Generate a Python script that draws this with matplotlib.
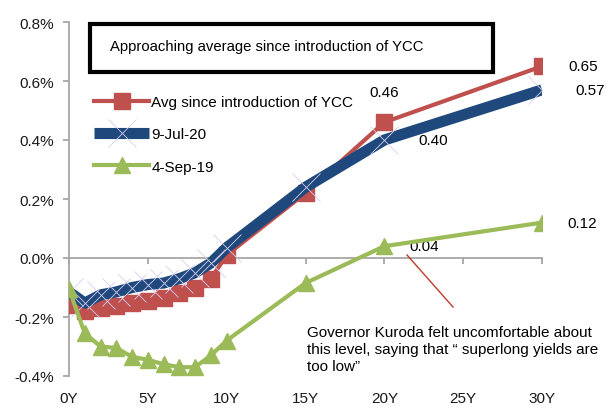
import matplotlib
matplotlib.use("Agg")
import matplotlib.pyplot as plt
from matplotlib.patches import Rectangle
from matplotlib.ticker import FuncFormatter

plt.rcParams['font.family'] = ['Liberation Sans', 'DejaVu Sans']

# ---- data ----
tenors = [0, 1, 2, 3, 4, 5, 6, 7, 8, 9, 10, 15, 20, 30]
avg_ycc = [-0.16, -0.18, -0.17, -0.163, -0.153, -0.145, -0.135, -0.12, -0.10, -0.07, 0.01, 0.22, 0.46, 0.65]
jul20 = [-0.115, -0.153, -0.125, -0.115, -0.10, -0.09, -0.085, -0.07, -0.05, -0.017, 0.035, 0.24, 0.40, 0.57]
sep19 = [-0.105, -0.255, -0.30, -0.305, -0.335, -0.345, -0.36, -0.37, -0.37, -0.33, -0.28, -0.085, 0.04, 0.12]
series_names = ["Avg since introduction of YCC", "9-Jul-20", "4-Sep-19"]
x_ticks = [0, 5, 10, 15, 20, 25, 30]
x_ticklabels = ["0Y", "5Y", "10Y", "15Y", "20Y", "25Y", "30Y"]
y_ticks = [-0.4, -0.2, 0.0, 0.2, 0.4, 0.6, 0.8]
title_text = "Approaching average since introduction of YCC"
note_text = "Governor Kuroda felt uncomfortable about\nthis level, saying that \u201c superlong yields are\ntoo low\u201d"

W, H = 614, 410
fig = plt.figure(figsize=(W / 100, H / 100), dpi=100)
ax = fig.add_axes([69 / W, 1 - 377 / H, (542 - 69) / W, (377 - 23) / H])

RED = '#c0504d'
BLUE = '#1f497d'
GREEN = '#9bbb59'
GREY = '#a6a6a6'

l1, = ax.plot(tenors, avg_ycc, color=RED, lw=3, marker='s', ms=11, mec=RED, mfc=RED,
              label=series_names[0], zorder=3)
l2, = ax.plot(tenors, jul20, color=BLUE, lw=8, solid_capstyle='butt', label=series_names[1],
              zorder=4, marker='x', ms=20, mec='#d4cdee', mew=0.6)
l3, = ax.plot(tenors, sep19, color=GREEN, lw=3, marker='^', ms=12, mec=GREEN, mfc=GREEN,
              label=series_names[2], zorder=5)

ax.set_xlim(0, 30)
ax.set_ylim(-0.4, 0.8)
ax.set_yticks(y_ticks)
ax.yaxis.set_major_formatter(FuncFormatter(lambda v, p: f"{v:.1f}%"))
ax.set_xticks(x_ticks)
ax.set_xticklabels(x_ticklabels)

for s in ['top', 'right']:
    ax.spines[s].set_visible(False)
ax.spines['left'].set_color(GREY)
ax.spines['left'].set_linewidth(1.3)
ax.spines['bottom'].set_color(GREY)
ax.spines['bottom'].set_linewidth(1.3)
ax.spines['bottom'].set_position(('data', 0))
ax.tick_params(axis='y', direction='out', length=4.5, width=1.3, color=GREY, pad=6,
               labelsize=11, labelcolor='#1a1a1a')
ax.tick_params(axis='x', direction='out', length=4.5, width=1.3, color=GREY, pad=91,
               labelsize=11, labelcolor='#1a1a1a')

# data labels
lab_fs = 11
ax.annotate("0.65", (tenors[-1], avg_ycc[-1]), xytext=(30, 0), textcoords='offset points',
            ha='center', va='center', fontsize=lab_fs)
ax.annotate("0.57", (tenors[-1], jul20[-1]), xytext=(35, 0), textcoords='offset points',
            ha='center', va='center', fontsize=lab_fs)
ax.annotate("0.46", (tenors[-2], avg_ycc[-2]), xytext=(0, 22), textcoords='offset points',
            ha='center', va='center', fontsize=lab_fs)
ax.annotate("0.40", (tenors[-2], jul20[-2]), xytext=(35, 0), textcoords='offset points',
            ha='center', va='center', fontsize=lab_fs)
ax.annotate("0.12", (tenors[-1], sep19[-1]), xytext=(29, 0), textcoords='offset points',
            ha='center', va='center', fontsize=lab_fs)
ax.annotate("0.04", (tenors[-2], sep19[-2]), xytext=(29, 0), textcoords='offset points',
            ha='center', va='center', fontsize=lab_fs)

# legend
leg = ax.legend(handles=[l1, l2, l3], loc='upper left', bbox_to_anchor=(88 / W, 1 - 90 / H),
                bbox_transform=fig.transFigure, frameon=False, fontsize=11,
                handlelength=3.6, handletextpad=0.15, labelspacing=1.2, borderaxespad=0,
                markerscale=1.0, numpoints=1)

# title box
fig.add_artist(Rectangle((90 / W, 1 - 73 / H), (493 - 90) / W, (73 - 25) / H,
                         transform=fig.transFigure, fill=True, facecolor='white',
                         edgecolor='black', lw=3, zorder=10))
fig.text(110 / W, 1 - 47 / H, title_text, ha='left', va='center', fontsize=10.7, zorder=11)

# annotation arrow line and note
fig.add_artist(plt.Line2D([407 / W, 453 / W], [1 - 256 / H, 1 - 308 / H],
                          transform=fig.transFigure, color='#c0392b', lw=1))
fig.text(307 / W, 1 - 350 / H, note_text, ha='left', va='center', fontsize=11, linespacing=1.3)

fig.savefig("out.png", dpi=100)
